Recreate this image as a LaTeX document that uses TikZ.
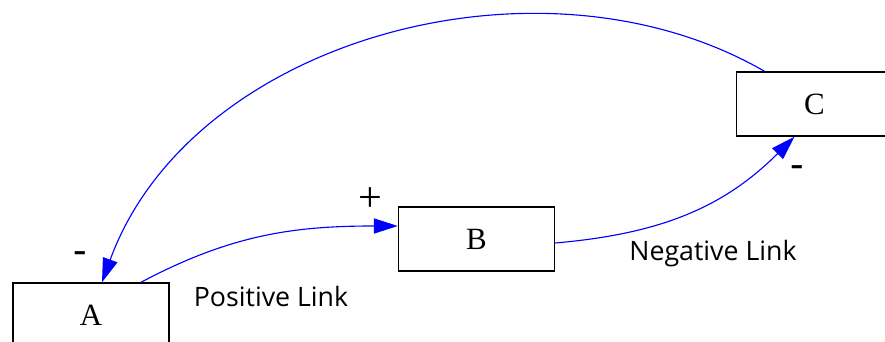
\documentclass[tikz,border=0pt]{standalone}
\usepackage{fontspec}
\newfontfamily\linkfont{Open Sans}
\newfontfamily\boxfont{Liberation Serif}
\usetikzlibrary{arrows.meta,calc}
\tikzset{
  box/.style={draw, line width=1pt, minimum width=3.9cm, minimum height=1.6cm, font=\boxfont\fontsize{22}{24}\selectfont},
  link/.style={draw=blue, line width=0.8pt, -{Triangle[length=0.6cm,width=0.38cm]}},
  linklabel/.style={font=\linkfont\fontsize{19}{21}\selectfont},
  sign/.style={font=\linkfont\fontsize{30}{30}\selectfont, inner sep=0pt}
}
\begin{document}
\begin{tikzpicture}[x=0.025cm, y=0.025cm]
  \clip (0,0) rectangle (885,341);
  \foreach \n/\x/\y in {A/91/26, B/476.5/102, C/814.5/237}
    \node[box] (\n) at (\x,\y) {\n};
  % links between the boxes
  \draw[link] ($(A.north)+(50,0)$) to[out=28, in=180] ($(B.west)+(0,13)$);
  \draw[link] ($(B.east)+(0,-4)$) to[out=5, in=-135] ($(C.south)+(-20,0)$);
  \draw[link] ($(C.north)+(-50,0)$) to[out=150, in=70, looseness=0.95] ($(A.north)+(11,0)$);
  % polarity signs
  \node[sign] (minusA) at (80,83) {-};
  \node[font=\boxfont\fontsize{30}{30}\selectfont, inner sep=0pt] (plusB) at (370,141) {+};
  \node[sign] (minusC) at (797,169) {-};
  \node[linklabel] (pos) at (271,45) {Positive Link};
  \node[linklabel] (neg) at (713,87) {Negative Link};
\end{tikzpicture}
\end{document}
